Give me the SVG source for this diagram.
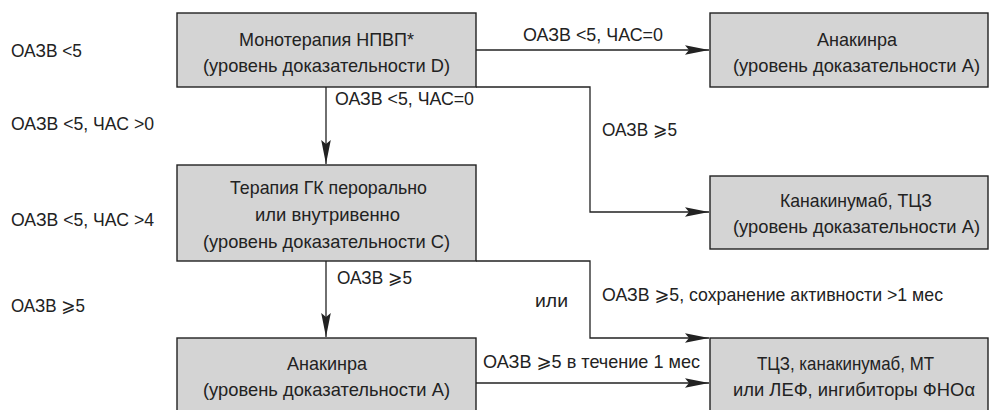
<svg xmlns="http://www.w3.org/2000/svg" width="990" height="410" viewBox="0 0 990 410">
<defs>
<style>
text{font-family:"Liberation Sans Narrow","Liberation Sans","DejaVu Sans",sans-serif;font-size:19px;fill:#222}
.c{text-anchor:middle}
.box{fill:#d4d4d4;stroke:#222;stroke-width:1.4}
.ln{fill:none;stroke:#222;stroke-width:1.3}
</style>
<marker id="ah" markerUnits="userSpaceOnUse" markerWidth="26" markerHeight="12" refX="24" refY="6" orient="auto">
<path d="M0,1.2 L24,6 L0,10.8 L4,6 z" fill="#222"/>
</marker>
</defs>
<rect width="990" height="410" fill="#fff"/>
<g id="connectors">
<path class="ln" d="M476,50 H709" marker-end="url(#ah)"/>
<path class="ln" d="M476,87 H590 V212 H709" marker-end="url(#ah)"/>
<path class="ln" d="M326,87 V164" marker-end="url(#ah)"/>
<path class="ln" d="M476,261 H590 V338 H709" marker-end="url(#ah)"/>
<path class="ln" d="M326,261 V337" marker-end="url(#ah)"/>
<path class="ln" d="M476,383 H709" marker-end="url(#ah)"/>
</g>
<g id="left-labels">
<text x="11" y="57" textLength="71" lengthAdjust="spacingAndGlyphs">ОАЗВ &lt;5</text>
<text x="11" y="130" textLength="143" lengthAdjust="spacingAndGlyphs">ОАЗВ &lt;5, ЧАС &gt;0</text>
<text x="11" y="226" textLength="143" lengthAdjust="spacingAndGlyphs">ОАЗВ &lt;5, ЧАС &gt;4</text>
<text x="11" y="312" textLength="74" lengthAdjust="spacingAndGlyphs">ОАЗВ ⩾5</text>
</g>
<g id="edge-labels">
<text x="523" y="41" textLength="140" lengthAdjust="spacingAndGlyphs">ОАЗВ &lt;5, ЧАС=0</text>
<text x="335" y="105" textLength="139" lengthAdjust="spacingAndGlyphs">ОАЗВ &lt;5, ЧАС=0</text>
<text x="602" y="136" textLength="75" lengthAdjust="spacingAndGlyphs">ОАЗВ ⩾5</text>
<text x="337" y="284" textLength="75" lengthAdjust="spacingAndGlyphs">ОАЗВ ⩾5</text>
<text x="535" y="307" textLength="33" lengthAdjust="spacingAndGlyphs">или</text>
<text x="602" y="301" textLength="341" lengthAdjust="spacingAndGlyphs">ОАЗВ ⩾5, сохранение активности &gt;1 мес</text>
<text x="483" y="368" textLength="217" lengthAdjust="spacingAndGlyphs">ОАЗВ ⩾5 в течение 1 мес</text>
</g>
<g id="n1">
<rect class="box" x="177" y="13" width="299" height="74"/>
<text class="c" x="326.5" y="46" textLength="175" lengthAdjust="spacingAndGlyphs">Монотерапия НПВП*</text>
<text class="c" x="326.5" y="72" textLength="247" lengthAdjust="spacingAndGlyphs">(уровень доказательности D)</text>
</g>
<g id="n2">
<rect class="box" x="710" y="13" width="278" height="74"/>
<text class="c" x="857" y="46" textLength="80" lengthAdjust="spacingAndGlyphs">Анакинра</text>
<text class="c" x="856.5" y="72" textLength="247" lengthAdjust="spacingAndGlyphs">(уровень доказательности А)</text>
</g>
<g id="n3">
<rect class="box" x="710" y="176" width="278" height="73"/>
<text class="c" x="856" y="207" textLength="152" lengthAdjust="spacingAndGlyphs">Канакинумаб, ТЦЗ</text>
<text class="c" x="856.5" y="233" textLength="247" lengthAdjust="spacingAndGlyphs">(уровень доказательности А)</text>
</g>
<g id="n4">
<rect class="box" x="177" y="165" width="299" height="96"/>
<text class="c" x="328.5" y="194" textLength="197" lengthAdjust="spacingAndGlyphs">Терапия ГК перорально</text>
<text class="c" x="327.5" y="221" textLength="145" lengthAdjust="spacingAndGlyphs">или внутривенно</text>
<text class="c" x="326.5" y="248" textLength="247" lengthAdjust="spacingAndGlyphs">(уровень доказательности С)</text>
</g>
<g id="n5">
<rect class="box" x="177" y="338" width="299" height="80"/>
<text class="c" x="327" y="370" textLength="80" lengthAdjust="spacingAndGlyphs">Анакинра</text>
<text class="c" x="326.5" y="396" textLength="247" lengthAdjust="spacingAndGlyphs">(уровень доказательности А)</text>
</g>
<g id="n6">
<rect class="box" x="710" y="338" width="278" height="80"/>
<text class="c" x="845.5" y="370" textLength="177" lengthAdjust="spacingAndGlyphs">ТЦЗ, канакинумаб, МТ</text>
<text class="c" x="854" y="396" textLength="242" lengthAdjust="spacingAndGlyphs">или ЛЕФ, ингибиторы ФНОα</text>
</g>
</svg>
